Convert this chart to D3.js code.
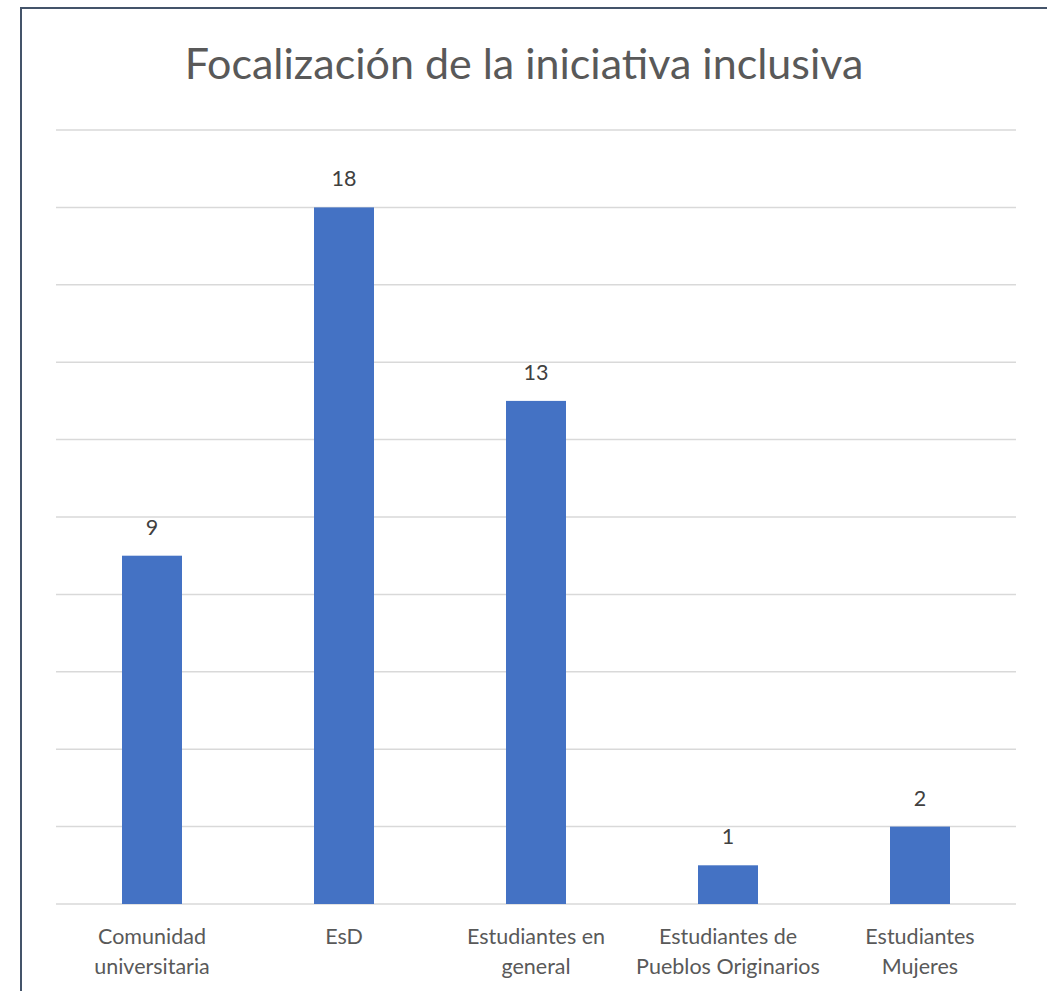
<!DOCTYPE html>
<html>
<head>
<meta charset="utf-8">
<script src="https://cdn.jsdelivr.net/npm/d3@7"></script>
<style>
  html, body { margin: 0; padding: 0; background: #fff; }
  svg { display: block; }
</style>
</head>
<body>
<svg id="chart"></svg>
<script>
// chart data
const title = 'Focalización de la iniciativa inclusiva';
const categories = [
  [ 'Comunidad', 'universitaria' ],
  [ 'EsD' ],
  [ 'Estudiantes en', 'general' ],
  [ 'Estudiantes de', 'Pueblos Originarios' ],
  [ 'Estudiantes', 'Mujeres' ]
];
const values = [ 9, 18, 13, 1, 2 ];
const gridTicks = [ 0, 2, 4, 6, 8, 10, 12, 14, 16, 18, 20 ];

const width = 1047;
const height = 991;
const plot = { left: 56, right: 1016, top: 130, bottom: 904 };
const font = 'Lato, "Open Sans", sans-serif';

let svg = d3.select( '#chart' ).attr( 'width', width ).attr( 'height', height );

// frame (left + top edges only are visible)
svg.append( 'path' )
   .attr( 'd', 'M21,' + height + ' L21,8 L' + width + ',8' )
   .attr( 'fill', 'none' )
   .attr( 'stroke', '#44546A' )
   .attr( 'stroke-width', 2 );

let x = d3.scaleBand()
          .domain( d3.range( values.length ) )
          .range( [ plot.left, plot.right ] )
          .paddingInner( 0.6875 )
          .paddingOuter( 0.34375 );

let y = d3.scaleLinear()
          .domain( [ 0, 20 ] )
          .range( [ plot.bottom, plot.top ] );

// gridlines
svg.append( 'g' ).selectAll( 'line' )
   .data( gridTicks )
   .enter().append( 'line' )
   .attr( 'x1', plot.left )
   .attr( 'x2', plot.right )
   .attr( 'y1', d => y( d ) )
   .attr( 'y2', d => y( d ) )
   .attr( 'stroke', '#D9D9D9' )
   .attr( 'stroke-width', 1.5 );

// bars
svg.append( 'g' ).selectAll( 'rect' )
   .data( values )
   .enter().append( 'rect' )
   .attr( 'x', ( d, i ) => x( i ) )
   .attr( 'y', d => y( d ) )
   .attr( 'width', x.bandwidth() )
   .attr( 'height', d => y( 0 ) - y( d ) )
   .attr( 'fill', '#4472C4' );

// value labels
svg.append( 'g' ).selectAll( 'text' )
   .data( values )
   .enter().append( 'text' )
   .attr( 'x', ( d, i ) => x( i ) + x.bandwidth() / 2 )
   .attr( 'y', d => y( d ) - 21 )
   .attr( 'text-anchor', 'middle' )
   .attr( 'font-family', font )
   .attr( 'font-size', 21.5 )
   .attr( 'fill', '#404040' )
   .text( d => d );

// category labels
let cats = svg.append( 'g' ).selectAll( 'text' )
   .data( categories )
   .enter().append( 'text' )
   .attr( 'text-anchor', 'middle' )
   .attr( 'font-family', font )
   .attr( 'font-size', 21.5 )
   .attr( 'fill', '#595959' );

cats.selectAll( 'tspan' )
    .data( ( d, i ) => d.map( t => ( { t: t, i: i } ) ) )
    .enter().append( 'tspan' )
    .attr( 'x', d => x( d.i ) + x.bandwidth() / 2 )
    .attr( 'y', ( d, j ) => 944 + j * 29.5 )
    .text( d => d.t );

// title
svg.append( 'text' )
   .attr( 'x', 524 )
   .attr( 'y', 79 )
   .attr( 'text-anchor', 'middle' )
   .attr( 'font-family', font )
   .attr( 'font-size', 43 )
   .attr( 'fill', '#595959' )
   .text( title );
</script>
</body>
</html>
